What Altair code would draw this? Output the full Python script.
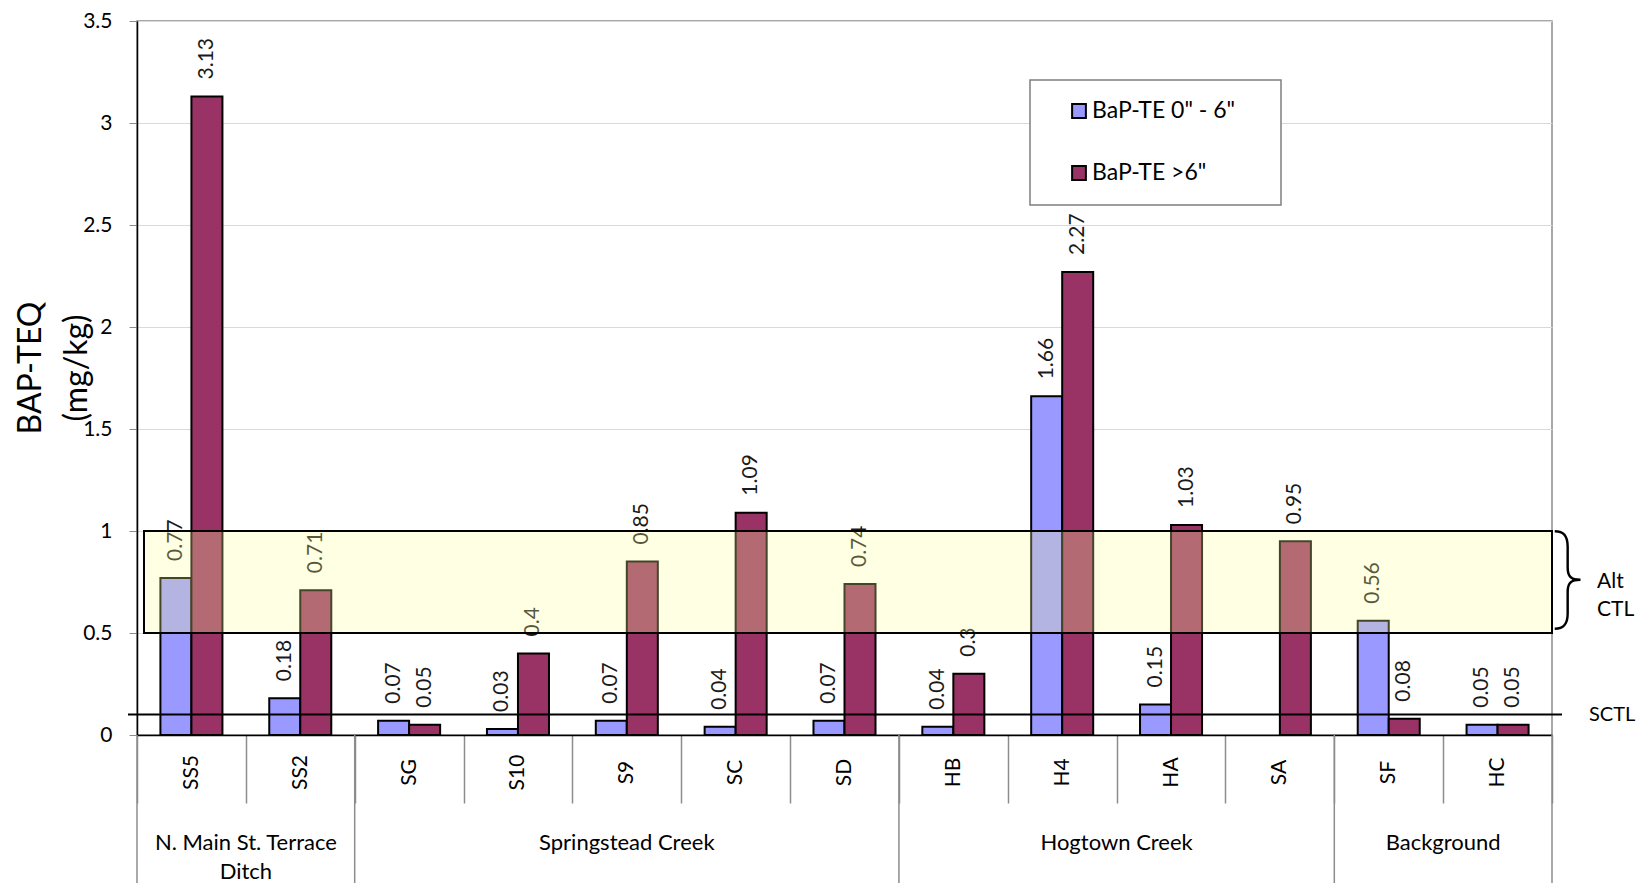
import altair as alt
import pandas as pd

# ---------------- data ----------------
sites = ["SS5", "SS2", "SG", "S10", "S9", "SC", "SD", "HB", "H4", "HA", "SA", "SF", "HC"]
shallow = [0.77, 0.18, 0.07, 0.03, 0.07, 0.04, 0.07, 0.04, 1.66, 0.15, None, 0.56, 0.05]
deep = [3.13, 0.71, 0.05, 0.4, 0.85, 1.09, 0.74, 0.3, 2.27, 1.03, 0.95, 0.08, 0.05]
series = ['BaP-TE 0" - 6"', 'BaP-TE >6"']
colors = ["#9999FF", "#993366"]
groups = ["N. Main St. Terrace\nDitch", "Springstead Creek", "Hogtown Creek", "Background"]
group_sizes = [2, 5, 4, 2]
alt_ctl = [0.5, 1.0]
sctl = 0.1
y_ticks = [0, 0.5, 1, 1.5, 2, 2.5, 3, 3.5]
y_title = "BAP-TEQ\n(mg/kg)"

# ---------------- tables ----------------
rows = []
for s, a, b in zip(sites, shallow, deep):
    for ser, v in zip(series, (a, b)):
        if v is not None:
            rows.append({"site": s, "series": ser, "value": v, "label": f"{v:g}"})
df = pd.DataFrame(rows)

bounds = [0]
for n in group_sizes:
    bounds.append(bounds[-1] + n)
centers = [(bounds[i] + bounds[i + 1]) / 2 for i in range(len(group_sizes))]
group_df = pd.DataFrame({"group": groups, "center": centers})
bound_df = pd.DataFrame({"b": bounds})

W, H = 1415, 714
TOP = 13
FONT = "Lato"

x_scale = alt.Scale(domain=sites, paddingInner=0, paddingOuter=0)
xoff = alt.XOffset("series:N", sort=series,
                   scale=alt.Scale(domain=series, paddingInner=0, paddingOuter=0.755))
y_scale = alt.Scale(domain=[0, 3.5], nice=False, zero=True)

x_axis = alt.Axis(title=None, labelAngle=270, labelAlign="center", labelBaseline="middle",
                  labelPadding=-31, tickBand="extent", tickSize=68, tickColor="#8c8c8c",
                  tickWidth=1.5, domainColor="black", domainWidth=1.5, labelFontSize=21,
                  labelColor="black", labelOverlap=False, labelBound=False, grid=False)
y_axis = alt.Axis(title=None, values=y_ticks, format="~g", tickSize=8, labelPadding=17,
                  labelFontSize=21, labelColor="black", tickColor="#8c8c8c",
                  domainColor="black", domainWidth=1.5, gridColor="#d9d9d9", gridWidth=1)

y_enc = alt.Y("value:Q", scale=y_scale, axis=y_axis, title=None)

bars = alt.Chart(df).mark_bar(stroke="black", strokeWidth=2).encode(
    x=alt.X("site:N", sort=sites, scale=x_scale, axis=x_axis),
    xOffset=xoff,
    y=y_enc,
    color=alt.Color("series:N", scale=alt.Scale(domain=series, range=colors), legend=None),
)

labels = alt.Chart(df).mark_text(angle=270, align="left", baseline="middle", dx=17,
                                 fontSize=21, color="#1a1a1a").encode(
    x=alt.X("site:N", sort=sites, scale=x_scale, axis=None),
    xOffset=xoff,
    y=alt.Y("value:Q", scale=y_scale, title=None),
    text="label:N",
)

band_df = pd.DataFrame({"value": [alt_ctl[1]], "value2": [alt_ctl[0]]})
band = alt.Chart(band_df).mark_rect(fill="#ffff99", fillOpacity=0.27, stroke="black",
                                    strokeWidth=2, strokeOpacity=1).encode(
    x=alt.value(7), x2=alt.value(W),
    y=alt.Y("value:Q", scale=y_scale, title=None), y2="value2:Q",
)

sctl_df = pd.DataFrame({"value": [sctl], "t": ["SCTL"]})
sctl_rule = alt.Chart(sctl_df).mark_rule(color="black", strokeWidth=2).encode(
    y=alt.Y("value:Q", scale=y_scale, title=None), x=alt.value(-9), x2=alt.value(1425))
sctl_text = alt.Chart(sctl_df).mark_text(align="left", baseline="middle", fontSize=20,
                                         color="black").encode(
    y=alt.Y("value:Q", scale=y_scale, title=None), x=alt.value(1452), text="t:N")

ctl_df = pd.DataFrame({"value": [sum(alt_ctl) / 2], "t": ["Alt\nCTL"], "b": ["}"]})
ctl_text = alt.Chart(ctl_df).mark_text(align="left", baseline="middle", fontSize=21,
                                       lineBreak="\n", lineHeight=28, color="black").encode(
    y=alt.Y("value:Q", scale=y_scale, title=None), x=alt.value(1460), text="t:N")
brace = alt.Chart(ctl_df).mark_text(align="center", baseline="middle", fontSize=110,
                                    font="Inter", fontWeight=100, color="black").encode(
    y=alt.Y("value:Q", scale=y_scale, title=None), x=alt.value(1431), text="b:N")

gx = alt.Scale(domain=[0, len(sites)], nice=False, zero=False)
group_text = alt.Chart(group_df).mark_text(fontSize=22, baseline="alphabetic", align="center",
                                           lineBreak="\n", lineHeight=29, color="black").encode(
    x=alt.X("center:Q", scale=gx, axis=None), y=alt.value(H + 115), text="group:N")
group_sep = alt.Chart(bound_df).mark_rule(color="#8c8c8c", strokeWidth=1.5).encode(
    x=alt.X("b:Q", scale=gx, axis=None), y=alt.value(H), y2=alt.value(H + 150))

title_df = pd.DataFrame({"t": [y_title]})
ytitle = alt.Chart(title_df).mark_text(angle=270, align="center", baseline="middle",
                                       fontSize=32, lineBreak="\n", lineHeight=46,
                                       color="black").encode(
    x=alt.value(-106), y=alt.value(347), text="t:N")

leg_df = pd.DataFrame({"series": series})
leg_box = alt.Chart(title_df).mark_rect(fill="white", stroke="#7f7f7f", strokeWidth=1.5).encode(
    x=alt.value(893), x2=alt.value(1144), y=alt.value(59), y2=alt.value(184))
leg_items = []
for i, s in enumerate(series):
    sub = alt.Chart(leg_df).transform_filter(alt.datum.series == s)
    leg_items.append(sub.mark_square(size=190, stroke="black", strokeWidth=2, opacity=1).encode(
        x=alt.value(942), y=alt.value(90 + 62 * i),
        color=alt.Color("series:N", scale=alt.Scale(domain=series, range=colors), legend=None)))
    leg_items.append(sub.mark_text(align="left", baseline="middle", fontSize=23,
                                   color="black").encode(
        x=alt.value(955), y=alt.value(90 + 62 * i), text="series:N"))

chart = alt.layer(
    bars, labels, band, sctl_rule, sctl_text, ctl_text, brace,
    group_sep, group_text, ytitle, leg_box, *leg_items
).resolve_scale(x="independent").properties(
    width=W, height=H,
    padding={"left": 129, "top": TOP, "right": 86, "bottom": 148},
    autosize=alt.AutoSizeParams(type="none"),
).configure(font=FONT).configure_view(stroke="#8c8c8c", strokeWidth=1.5)

chart.save("out.html", embed_options={"renderer": "svg", "actions": False})
